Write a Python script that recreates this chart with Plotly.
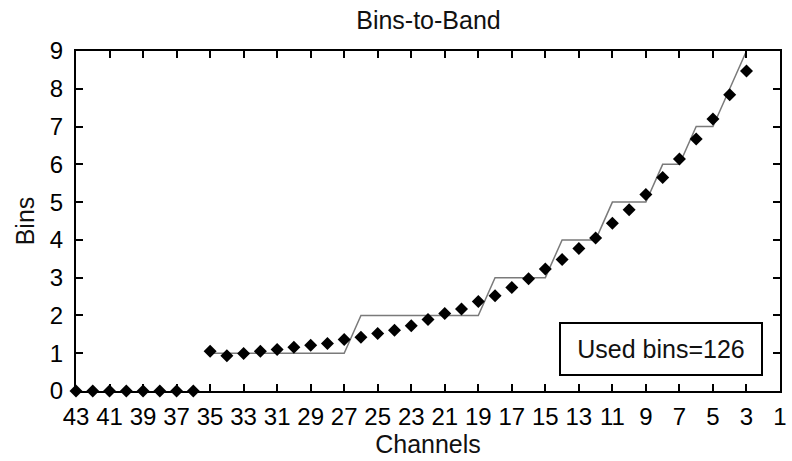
import plotly.graph_objects as go

# Channel numbers (plotted right-to-left, 43 down to 3)
channels = list(range(43, 2, -1))

# Measured bin counts per channel
bins_measured = [0, 0, 0, 0, 0, 0, 0, 0,            # 43..36
                 1.05, 0.93, 0.99, 1.05, 1.10, 1.16, 1.21, 1.26, 1.36,  # 35..27
                 1.42, 1.52, 1.61, 1.73, 1.89, 2.05, 2.17, 2.37,        # 26..19
                 2.52, 2.74, 2.97, 3.23,                                # 18..15
                 3.48, 3.77, 4.05,                                      # 14..12
                 4.44, 4.80, 5.20,                                      # 11..9
                 5.65, 6.14, 6.67, 7.20, 7.84, 8.47]                    # 8..3

# Integer bin allocation for the used channels
band_channels = list(range(35, 2, -1))
bins_allocated = [1] * 9 + [2] * 8 + [3] * 4 + [4] * 3 + [5] * 3 + [6] * 2 + [7] * 2 + [8, 9]

used_bins_text = "Used bins=126"
x_ticks = list(range(43, 0, -2))
y_ticks = list(range(0, 10))

tick_font = dict(family="Liberation Sans, Arial, sans-serif", size=24, color="black")
text_font = dict(family="Liberation Sans, Arial, sans-serif", size=25, color="#111111")

fig = go.Figure()
fig.add_trace(go.Scatter(
    x=band_channels, y=bins_allocated, mode="lines",
    line=dict(color="#7a7a7a", width=1.5), showlegend=False,
))
fig.add_trace(go.Scatter(
    x=channels, y=bins_measured, mode="markers",
    marker=dict(symbol="diamond", size=10, color="black"),
    cliponaxis=False, showlegend=False,
))

axis_common = dict(
    showline=True, linecolor="black", linewidth=2, mirror="ticks",
    ticks="inside", ticklen=7, tickwidth=1.5, tickcolor="black",
    showgrid=False, zeroline=False, tickfont=tick_font,
)

fig.update_xaxes(range=[43, 1], tickvals=x_ticks, ticklabelstandoff=3,
                 title=dict(text="Channels", font=text_font, standoff=2),
                 **axis_common)
fig.update_yaxes(range=[0, 9], tickvals=y_ticks, ticklabelstandoff=6,
                 title=dict(text="Bins", font=text_font, standoff=8),
                 **axis_common)

fig.add_annotation(
    xref="paper", yref="paper", x=0.976, y=0.044,
    xanchor="right", yanchor="bottom",
    text=used_bins_text, showarrow=False, font=text_font,
    width=200, height=50, bordercolor="black", borderwidth=2,
    borderpad=0, bgcolor="white",
)

fig.update_layout(
    width=792, height=461,
    margin=dict(l=76, r=5, t=51, b=70),
    paper_bgcolor="white", plot_bgcolor="white",
    title=dict(text="Bins-to-Band", font=text_font, x=0.541, xanchor="center",
               y=0.955, yanchor="middle"),
)

fig.write_html("out.html")
